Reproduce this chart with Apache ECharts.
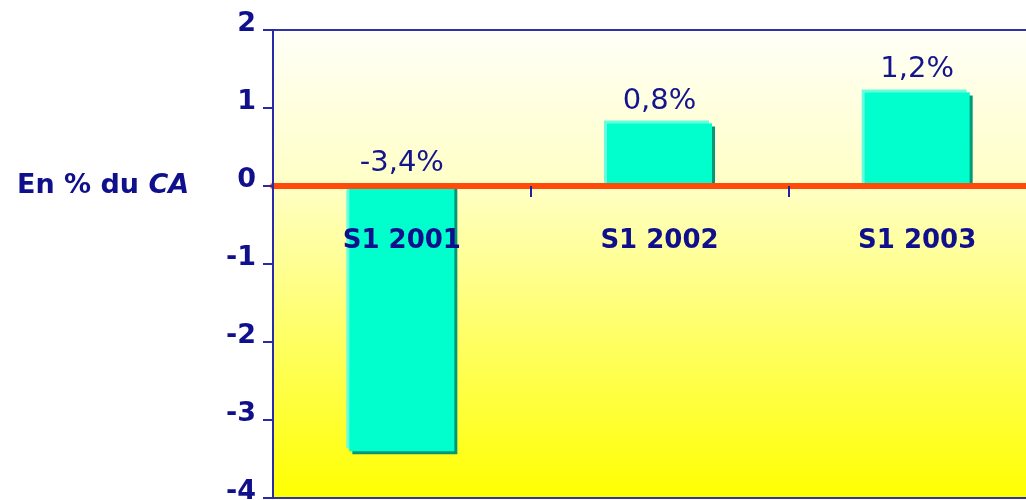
<!DOCTYPE html>
<html>
<head>
<meta charset="utf-8">
<script src="https://cdn.jsdelivr.net/npm/echarts@6/dist/echarts.min.js"></script>
<style>
html,body{margin:0;padding:0;background:#ffffff;overflow:hidden;}
#chart{width:1050px;height:500px;}
</style>
</head>
<body>
<div id="chart"></div>
<script>
var categories = ['S1 2001', 'S1 2002', 'S1 2003'];
var values = [-3.4, 0.8, 1.2];
var yTicks = { min: -4, max: 2, interval: 1 };
var axisTitle = 'En % du ';
var axisTitleItalic = 'CA';

var navy = '#10108C';
var chart = echarts.init(document.getElementById('chart'));
function fmt(v) { return v.toFixed(1).replace('.', ',') + '%'; }

chart.setOption({
  animation: false,
  textStyle: { fontFamily: 'DejaVu Sans' },
  grid: {
    left: 273, top: 30, bottom: 2, right: 4,
    containLabel: false,
    outerBoundsMode: 'none',
    show: true,
    borderColor: '#3232A8', borderWidth: 2,
    backgroundColor: {
      type: 'linear', x: 0, y: 0, x2: 0, y2: 1,
      colorStops: [
        { offset: 0, color: '#FFFFF8' },
        { offset: 0.33, color: '#FFFFC6' },
        { offset: 1, color: '#FFFF00' }
      ]
    }
  },
  xAxis: {
    type: 'category',
    data: categories,
    z: 5,
    axisLine: { onZero: true, lineStyle: { color: '#FF4A0A', width: 6 } },
    axisTick: { show: true, length: 11, lineStyle: { color: '#2020A0', width: 2 } },
    axisLabel: { margin: -270, color: navy, fontWeight: 'bold', fontSize: 26, fontFamily: 'DejaVu Sans' }
  },
  yAxis: {
    type: 'value',
    min: yTicks.min, max: yTicks.max, interval: yTicks.interval,
    z: 6,
    axisLine: { show: true, lineStyle: { color: '#2A2AA8', width: 2 } },
    axisTick: { show: true, length: 10, lineStyle: { color: '#2A2AA8', width: 2 } },
    splitLine: { show: false },
    axisLabel: { margin: 17, color: navy, fontWeight: 'bold', fontSize: 27, verticalAlign: 'bottom', lineHeight: 12, fontFamily: 'DejaVu Sans' }
  },
  graphic: [{
    type: 'text',
    left: 17, top: 172,
    style: {
      text: '{a|' + axisTitle + '}{b|' + axisTitleItalic + '}',
      rich: {
        a: { fontSize: 27, fontWeight: 'bold', fill: navy, fontFamily: 'DejaVu Sans' },
        b: { fontSize: 27, fontWeight: 'bold', fontStyle: 'italic', fill: navy, fontFamily: 'DejaVu Sans' }
      }
    }
  }],
  series: [
    {
      type: 'bar',
      data: values,
      barWidth: 105,
      barGap: '-100%',
      silent: true,
      itemStyle: { color: '#66FFDD', shadowColor: '#66FFDD', shadowBlur: 0, shadowOffsetX: -3, shadowOffsetY: -3 }
    },
    {
      type: 'bar',
      data: values,
      barWidth: 105,
      barGap: '-100%',
      itemStyle: { color: '#00FFCC', shadowColor: '#009977', shadowBlur: 0, shadowOffsetX: 3, shadowOffsetY: 3 },
      label: {
        show: true,
        position: 'top',
        distance: 8,
        color: '#14148C',
        fontSize: 29,
        fontFamily: 'DejaVu Sans',
        formatter: function (p) { return fmt(p.value); }
      }
    }
  ]
});
</script>
</body>
</html>
